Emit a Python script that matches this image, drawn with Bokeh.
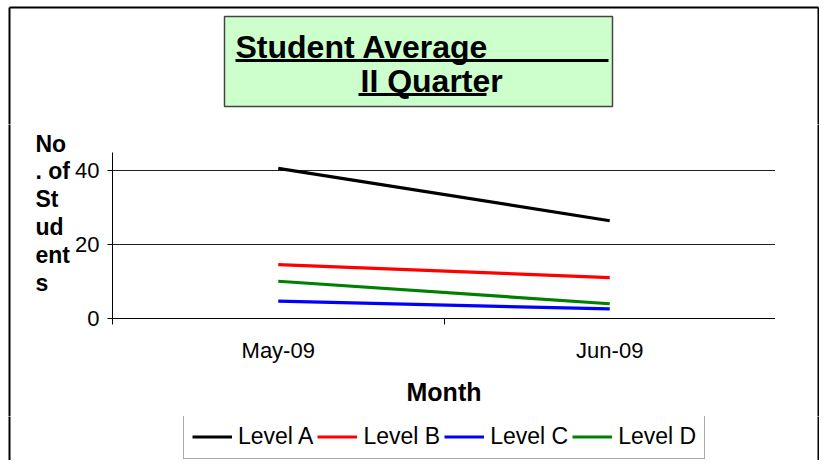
from bokeh.plotting import figure
from bokeh.models import Range1d, FixedTicker, Legend, LegendItem
from bokeh.layouts import column, row
from bokeh.core.properties import value
from bokeh.embed import file_html
from bokeh.resources import INLINE

# ---- data ----
months = ["May-09", "Jun-09"]
series_names = ["Level A", "Level B", "Level C", "Level D"]
level_a = [40.7, 26.5]
level_b = [14.6, 11.1]
level_c = [4.7, 2.6]
level_d = [10.1, 4.0]
series_values = [level_a, level_b, level_c, level_d]
series_colors = ["#000000", "#ff0000", "#0000ff", "#008000"]
y_ticks = [0, 20, 40]
title_lines = ["Student Average", "II Quarter"]
ylabel_lines = ["No", ". of", "St", "ud", "ent", "s"]
x_label = "Month"

FONT = "Liberation Sans"
W, H = 819, 460
TOP_H = 124            # height of title strip
MID_BOTTOM = 416       # bottom of plot row
LEFT_W = 72            # width of y-title strip
FL, FR, FT, FB = 112, 775, 152, 318   # plot frame edges (page px)
BX0, BY0, BX1 = 9, 7, 818            # outer border
BORDER = dict(line_color="black", line_width=2)
NAN = float("nan")


def deco(w, h, x0, x1, y0, y1):
    f = figure(width=w, height=h, output_backend="svg", toolbar_location=None,
               x_range=Range1d(x0, x1), y_range=Range1d(y1, y0),
               x_axis_type=None, y_axis_type=None, min_border=0, frame_align=False)
    f.outline_line_color = None
    f.background_fill_color = "white"
    f.border_fill_color = "white"
    return f


# ---- title strip ----
top = deco(W, TOP_H, 0, W, 0, TOP_H)
top.segment(x0=[BX0, BX0, BX1], y0=[BY0, BY0, BY0], x1=[BX1, BX0, BX1],
            y1=[BY0, TOP_H + 3, TOP_H + 3], **BORDER)
top.quad(left=[224], right=[612], top=[16], bottom=[106], fill_color="#ccffcc",
         line_color="#444444", line_width=1.5)
top.text(x=[235, 360], y=[46, 80], text=title_lines, text_font=value(FONT),
         text_font_size="32px", text_font_style="bold", text_color="black",
         text_baseline="alphabetic", text_align="left")
top.quad(left=[235, 358], right=[608, 486], top=[58.5, 92.5], bottom=[61.5, 95.5],
         fill_color="black", line_color=None)

# ---- y title strip ----
left = deco(LEFT_W, MID_BOTTOM - TOP_H, 0, LEFT_W, TOP_H, MID_BOTTOM)
left.segment(x0=[BX0], y0=[TOP_H - 3], x1=[BX0], y1=[MID_BOTTOM + 3], **BORDER)
left.text(x=[35] * len(ylabel_lines), y=[143 + 27.8 * i for i in range(len(ylabel_lines))],
          text=ylabel_lines, text_font=value(FONT), text_font_size="23px",
          text_font_style="bold", text_color="black", text_baseline="middle", text_align="left")

# ---- main plot ----
p = figure(width=FR - LEFT_W, height=MID_BOTTOM - TOP_H, output_backend="svg",
           toolbar_location=None, x_range=Range1d(0, len(months)), y_range=Range1d(0, 45),
           min_border_left=FL - LEFT_W, min_border_right=0,
           min_border_top=FT - TOP_H, min_border_bottom=MID_BOTTOM - FB, frame_align=False)
p.outline_line_color = None
p.background_fill_color = "white"
p.border_fill_color = "white"

xs = [i + 0.5 for i in range(len(months))]
for vals, col in zip(series_values, series_colors):
    p.line(xs, vals, line_color=col, line_width=3.2)

p.xaxis.ticker = FixedTicker(ticks=xs, minor_ticks=list(range(len(months) + 1)))
p.xaxis.major_label_overrides = {x: m for x, m in zip(xs, months)}
p.xaxis.major_tick_out = 0
p.xaxis.major_tick_in = 0
p.xaxis.minor_tick_out = 6
p.xaxis.minor_tick_in = 0
p.xaxis.minor_tick_line_color = "black"
p.xaxis.axis_line_color = "black"
p.xaxis.major_label_text_font = FONT
p.xaxis.major_label_text_font_size = "22px"
p.xaxis.major_label_text_color = "black"
p.xaxis.major_label_standoff = 13
p.xaxis.axis_label = x_label
p.xaxis.axis_label_text_font = FONT
p.xaxis.axis_label_text_font_size = "25px"
p.xaxis.axis_label_text_font_style = "bold"
p.xaxis.axis_label_text_color = "black"
p.xaxis.axis_label_standoff = 12
p.xgrid.visible = False

p.yaxis.ticker = FixedTicker(ticks=y_ticks, minor_ticks=[])
p.yaxis.major_tick_out = 5
p.yaxis.major_tick_in = 0
p.yaxis.major_tick_line_color = "black"
p.yaxis.axis_line_color = "black"
p.yaxis.major_label_text_font = FONT
p.yaxis.major_label_text_font_size = "22px"
p.yaxis.major_label_text_color = "black"
p.yaxis.major_label_standoff = 8
p.ygrid.ticker = FixedTicker(ticks=y_ticks, minor_ticks=[])
p.ygrid.grid_line_color = "#222222"
p.ygrid.grid_line_width = 1

# ---- right border strip ----
right = deco(W - FR, MID_BOTTOM - TOP_H, FR, W, TOP_H, MID_BOTTOM)
right.segment(x0=[BX1], y0=[TOP_H - 3], x1=[BX1], y1=[MID_BOTTOM + 3], **BORDER)

# ---- legend strip ----
bottom = deco(W, H - MID_BOTTOM, 0, W, MID_BOTTOM, H)
bottom.segment(x0=[BX0, BX1], y0=[MID_BOTTOM - 3, MID_BOTTOM - 3], x1=[BX0, BX1], y1=[H, H], **BORDER)
items = []
for name, col in zip(series_names, series_colors):
    r = bottom.line(x=[NAN], y=[NAN], line_color=col, line_width=3.2)
    items.append(LegendItem(label=name, renderers=[r]))
legend = Legend(items=items, orientation="horizontal", location=(183, 1),
                label_text_font=FONT, label_text_font_size="23px", label_text_color="black",
                glyph_width=40, glyph_height=25, label_height=25, label_standoff=6,
                spacing=4, padding=8, margin=0,
                border_line_color="#555555", border_line_width=1,
                background_fill_color="white", background_fill_alpha=1)
bottom.add_layout(legend)

layout = column(top, row(left, p, right), bottom)
open("out.html", "w").write(file_html(layout, INLINE))
